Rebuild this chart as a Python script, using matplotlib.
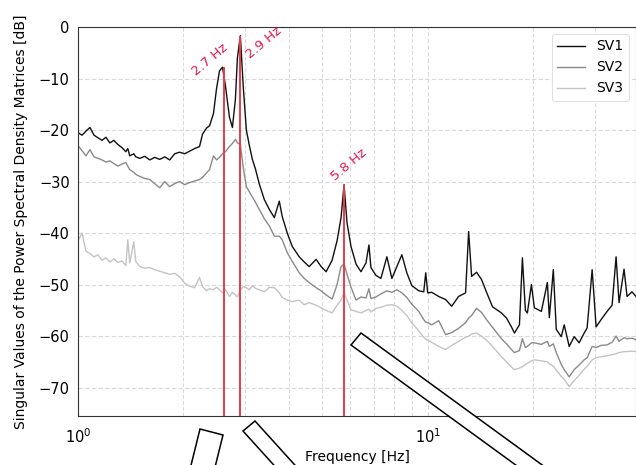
import matplotlib
matplotlib.use("Agg")
import matplotlib.pyplot as plt
from matplotlib.patches import Polygon
import numpy as np

# frequencies [Hz] shared by the three singular value curves
freq = [1.000, 1.027, 1.054, 1.082, 1.111, 1.140, 1.171, 1.202, 1.234, 1.266,
        1.300, 1.335, 1.370, 1.388, 1.406, 1.444, 1.463, 1.502, 1.552, 1.604,
        1.657, 1.713, 1.770, 1.829, 1.890, 1.952, 2.018, 2.085, 2.154, 2.226,
        2.270, 2.331, 2.377, 2.440, 2.489, 2.539, 2.589, 2.641, 2.710, 2.764,
        2.819, 2.856, 2.912, 2.971, 3.030, 3.090, 3.152, 3.215, 3.300, 3.410,
        3.524, 3.642, 3.763, 3.837, 3.966, 4.099, 4.291, 4.434, 4.581, 4.797,
        4.957, 5.122, 5.327, 5.505, 5.651, 5.764, 5.878, 6.034, 6.236, 6.443,
        6.658, 6.790, 6.880, 7.110, 7.346, 7.642, 7.897, 8.160, 8.434, 8.713,
        9.004, 9.428, 9.741, 9.869, 10.00, 10.27, 10.75, 11.25, 11.71, 12.25,
        12.83, 13.09, 13.35, 13.79, 14.25, 14.73, 15.32, 16.25, 16.80, 17.35,
        17.70, 18.29, 18.65, 19.02, 19.27, 19.79, 20.18, 21.13, 21.98, 22.27,
        22.86, 23.31, 24.09, 24.56, 25.38, 26.23, 27.10, 28.01, 28.56, 29.52,
        30.30, 31.31, 32.57, 33.66, 34.56, 35.24, 36.42, 37.14, 38.37, 39.39]

sv1 = [-20.5, -21.0, -20.2, -19.5, -21.0, -21.5, -22.0, -21.4, -22.5, -22.0,
       -22.8, -23.4, -24.2, -23.6, -25.0, -24.6, -25.2, -25.5, -25.1, -25.8,
       -25.3, -25.7, -25.2, -25.8, -24.6, -24.3, -24.6, -24.1, -23.6, -23.2,
       -20.8, -19.6, -19.2, -16.8, -12.0, -8.5, -7.8, -11.5, -17.5, -19.5,
       -14.0, -6.0, -1.7, -12.0, -20.0, -23.0, -25.7, -27.5, -30.5, -33.5,
       -35.4, -37.0, -33.8, -36.8, -40.0, -42.6, -44.6, -45.6, -46.5, -45.1,
       -46.5, -47.5, -45.3, -41.5, -37.0, -30.6, -38.0, -42.6, -46.0, -47.5,
       -45.8, -42.3, -46.7, -48.2, -48.8, -44.6, -48.8, -46.5, -44.2, -47.7,
       -50.2, -51.2, -51.4, -47.7, -51.6, -51.5, -52.3, -52.9, -54.2, -52.3,
       -51.6, -39.7, -48.4, -47.6, -49.0, -51.5, -54.3, -55.5, -56.5, -58.2,
       -59.4, -57.8, -44.8, -55.0, -55.5, -50.0, -54.5, -55.2, -49.6, -56.4,
       -47.1, -58.7, -60.1, -57.8, -62.0, -60.1, -61.3, -59.4, -58.4, -47.1,
       -58.2, -56.8, -55.2, -54.0, -44.6, -53.5, -47.0, -52.3, -51.4, -52.3]

sv2 = [-23.0, -24.0, -25.0, -23.8, -25.2, -25.5, -25.8, -26.2, -26.0, -26.5,
       -27.0, -26.6, -26.3, -27.0, -27.7, -28.2, -28.6, -29.0, -29.4, -29.6,
       -30.4, -31.2, -30.0, -31.0, -30.4, -30.0, -30.6, -30.2, -29.9, -29.6,
       -29.2, -28.3, -27.7, -25.0, -25.8, -25.3, -24.6, -24.2, -23.2, -22.6,
       -21.8, -22.5, -22.8, -27.5, -31.0, -32.0, -33.0, -34.0, -35.4, -37.2,
       -38.6, -40.6, -40.6, -41.3, -43.8, -45.5, -47.7, -48.8, -49.6, -50.6,
       -51.2, -52.0, -52.8, -50.0, -46.5, -46.0, -48.0, -50.5, -53.0, -52.4,
       -52.6, -50.8, -52.7, -52.4, -51.8, -51.2, -51.5, -51.0, -51.6, -52.5,
       -53.8, -55.2, -56.8, -57.3, -57.4, -57.8, -57.0, -59.7, -59.3, -58.5,
       -57.4, -56.5, -56.0, -54.6, -55.4, -56.8, -58.3, -60.5, -61.5, -62.6,
       -63.2, -62.8, -60.5, -62.2, -62.0, -61.3, -61.3, -61.6, -61.0, -62.0,
       -61.5, -63.2, -65.5, -66.5, -67.9, -66.5, -65.6, -64.6, -64.2, -62.0,
       -62.2, -61.8, -61.7, -61.2, -60.0, -61.0, -60.3, -60.5, -60.4, -60.7]

sv3 = [-41.5, -40.0, -43.5, -44.0, -44.6, -44.2, -45.3, -44.8, -45.6, -45.0,
       -45.7, -45.4, -46.3, -41.3, -45.8, -41.7, -45.5, -46.5, -46.8, -46.7,
       -47.1, -47.4, -47.7, -48.0, -47.8, -48.5, -49.7, -50.3, -50.6, -48.6,
       -50.4, -51.2, -50.8, -51.0, -50.5, -51.0, -51.6, -51.0, -52.3, -51.5,
       -52.0, -52.4, -51.0, -50.4, -50.6, -51.0, -50.2, -50.7, -51.0, -51.4,
       -50.5, -50.6, -51.6, -52.5, -53.0, -53.3, -53.0, -53.9, -53.5, -54.0,
       -54.5, -55.0, -55.5, -54.0, -53.0, -51.5, -53.0, -54.9, -55.2, -55.5,
       -55.0, -54.8, -55.3, -54.6, -54.4, -54.0, -53.9, -54.2, -55.0, -56.0,
       -57.4, -59.0, -60.2, -60.6, -60.8, -61.2, -62.0, -62.6, -61.8, -61.0,
       -60.2, -60.0, -59.6, -59.4, -60.0, -60.8, -62.0, -64.0, -65.0, -66.0,
       -66.5, -66.2, -65.9, -65.5, -65.3, -64.8, -64.6, -64.8, -65.0, -65.4,
       -65.8, -66.6, -67.8, -68.4, -69.8, -68.6, -67.6, -66.4, -65.9, -64.6,
       -64.2, -64.0, -63.8, -63.6, -63.4, -63.2, -63.0, -63.0, -62.9, -63.0]

# picked peaks: line position, peak level, label text
peak_freq = [2.62, 2.91, 5.75]
peak_db = [-7.7, -1.7, -30.6]
peak_text = ["2.7 Hz", "2.9 Hz", "5.8 Hz"]
label_pos = [(2.377, -6.3), (3.39, -3.0), (5.96, -26.7)]

red = "#e8174f"

fig = plt.figure(figsize=(6.36, 4.65), dpi=100)
ax = fig.add_axes([78/636, 49/465, 1 - 78/636, 389/465])

ax.plot(freq, sv1, color="#111111", lw=1.0, label="SV1")
ax.plot(freq, sv2, color="#8a8a8a", lw=1.0, label="SV2")
ax.plot(freq, sv3, color="#c4c4c4", lw=1.0, label="SV3")

ax.vlines(peak_freq, -75.5, peak_db, colors="#e83a4a", lw=1.4)
for (tx, ty), t in zip(label_pos, peak_text):
    ax.text(tx, ty, t, color=red, fontsize=9.5, rotation=40,
            ha="center", va="center")

ax.set_xscale("log")
ax.set_xlim(1, 39.4)
ax.set_ylim(-75.5, 0)
ax.set_yticks(np.arange(-70, 1, 10))
ax.grid(True, which="major", color="0.85", ls=(0, (4, 2)), lw=0.8)
ax.grid(True, which="minor", color="0.85", ls=(0, (4, 2)), lw=0.7)
ax.tick_params(which="both", length=0, labelsize=10.5)
ax.tick_params(axis="x", pad=8)
ax.tick_params(axis="y", pad=6)
for s in ax.spines.values():
    s.set_color("0.2")

ax.set_xlabel("Frequency [Hz]", fontsize=10, labelpad=3)
ax.set_ylabel("Singular Values of the Power Spectral Density Matrices [dB]",
              fontsize=10, labelpad=8)

leg = ax.legend(loc="upper right", fontsize=10, framealpha=1)
leg.get_frame().set_edgecolor("0.88")
leg.get_frame().set_linewidth(0.8)

# stray rotated boxes below the axes (pixels: corner, corner, direction, length)
boxes = [((200, 429), (223, 435), (-0.24, 0.97), 60),
         ((243, 431), (255, 421), (0.67, 0.74), 90),
         ((351, 345), (361, 333), (0.81, 0.59), 260)]
for p0, p1, d, L in boxes:
    pts = [p0, p1, (p1[0] + L*d[0], p1[1] + L*d[1]),
           (p0[0] + L*d[0], p0[1] + L*d[1])]
    pts = [(x/636, 1 - y/465) for x, y in pts]
    fig.patches.append(Polygon(pts, closed=True, facecolor="white",
                               edgecolor="black", lw=1.1,
                               transform=fig.transFigure, zorder=10))

fig.savefig("out.png", dpi=100)
